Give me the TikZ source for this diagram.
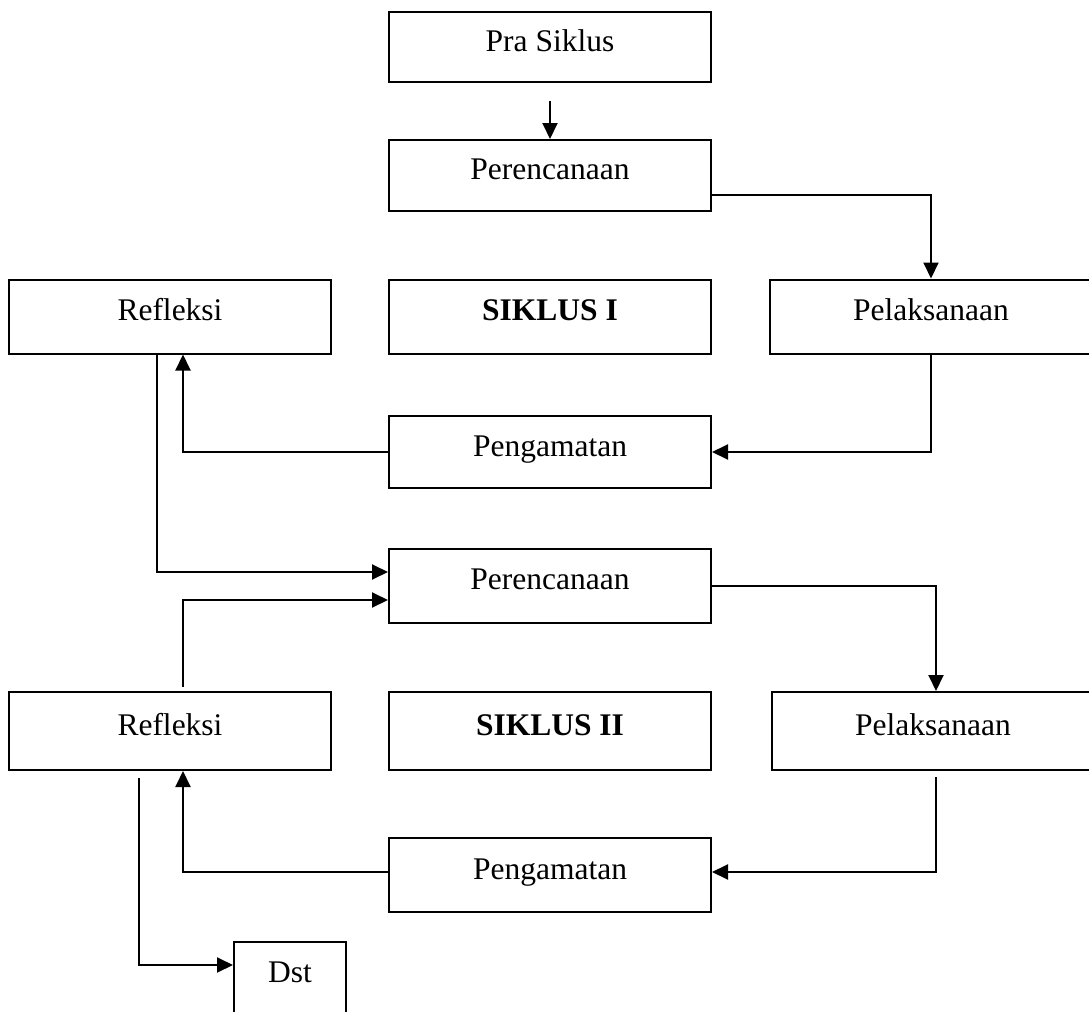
\documentclass[tikz,border=0pt]{standalone}
\usepackage{fontspec}
\setmainfont{Liberation Serif}
\usepackage{tikz}
\usetikzlibrary{arrows.meta}
\usetikzlibrary{calc}

\begin{document}
\begin{tikzpicture}[x=0.5pt,y=-0.5pt,
			box/.style={draw,line width=1pt,minimum width=161pt,minimum height=37pt,
				text height=10pt,text depth=6pt,inner sep=0pt,font=\fontsize{15.75}{19}\selectfont},
			smallbox/.style={box,minimum width=56pt},
			arr/.style={line width=1pt,-{Triangle[length=8pt,width=7.5pt]}}]
			\clip (0,0) rectangle (1089,1012);
			% siklus I
			\node[box,minimum height=35pt] (pra) at (550,47) {Pra Siklus};
			\node[box,minimum height=35.5pt] (per1) at (550,175.5) {Perencanaan};
			\node[box] (ref1) at (170,316.5) {Refleksi};
			\node[box] (sik1) at (550,316.5) {\bfseries SIKLUS I};
			\node[box] (pel1) at (931,316.5) {Pelaksanaan};
			\node[box,minimum height=36pt] (pen1) at (550,452) {Pengamatan};
			% siklus II
			\node[box] (per2) at (550,585.5) {Perencanaan};
			\node[box,minimum height=39pt] (ref2) at (170,731) {Refleksi};
			\node[box,minimum height=39pt] (sik2) at (550,731) {\bfseries SIKLUS II};
			\node[box,minimum height=39pt] (pel2) at (933,731) {Pelaksanaan};
			\node[box] (pen2) at (550,875) {Pengamatan};
			\node[smallbox] (dst) at (290,978.5) {Dst};
			
			\draw[arr,shorten <=9pt] (pra) -- (per1);
			\draw[arr] ([yshift=-9.75pt]per1.east) -| (pel1);
			\draw[arr] (pel1) |- (pen1);
			\draw[arr] (pen1) -| ([xshift=6.5pt]ref1.south);
			\draw[arr] ([xshift=-6.5pt]ref1.south) |- ([yshift=6.75pt]per2.west);
			\draw[arr,shorten <=2pt] ([xshift=6.5pt]ref2.north) |- ([yshift=-7.25pt]per2.west);
			\draw[arr] (per2) -| ([xshift=1.5pt]pel2.north);
			\draw[arr,shorten <=3pt] ([xshift=1.5pt]pel2.south) |- ([yshift=1.5pt]pen2.east);
			\draw[arr] ([yshift=1.5pt]pen2.west) -| ([xshift=6.5pt]ref2.south);
			\draw[arr,shorten <=3.5pt] ([xshift=-15.5pt]ref2.south) |- ([yshift=6.75pt]dst.west);
		\end{tikzpicture}
\end{document}
